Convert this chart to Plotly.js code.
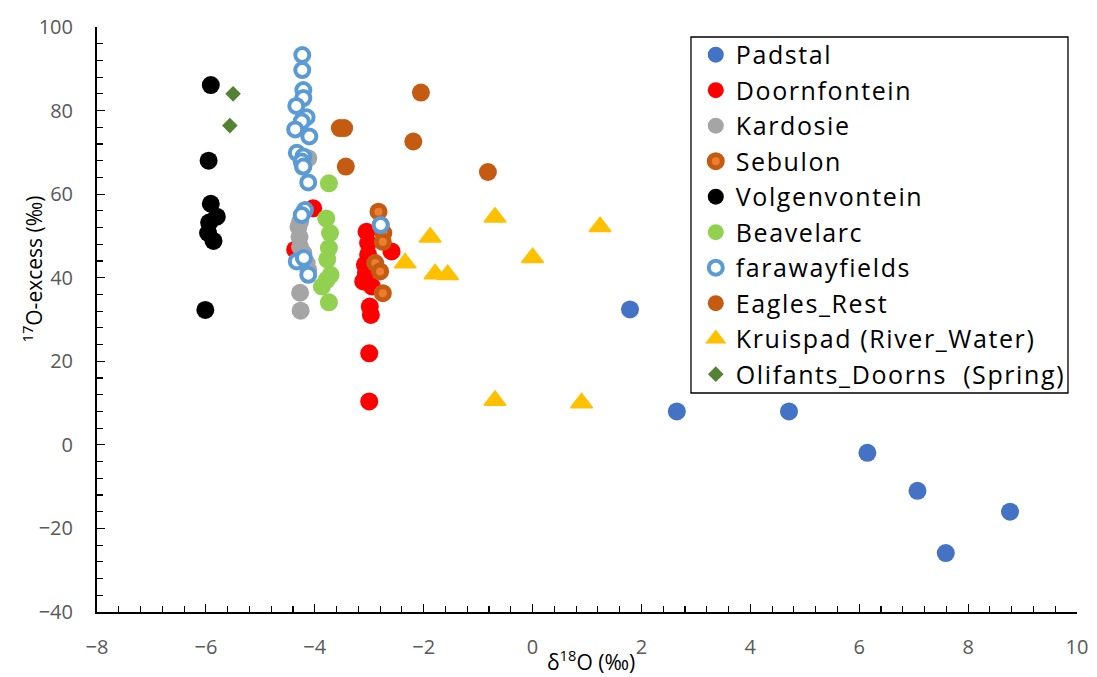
<!DOCTYPE html>
<html>
<head>
<meta charset="utf-8">
<script src="https://cdn.plot.ly/plotly-3.0.1.min.js"></script>
<style>
  html, body { margin: 0; padding: 0; background: #fff; }
  #chart { width: 1097px; height: 677px; }
  #chart .legendtext { letter-spacing: 1.6px; }
  #chart g.legend g.scrollbox { clip-path: none !important; }
</style>
</head>
<body>
<div id="chart"></div>
<script>
// δ18O (‰) and 17O-excess (‰) per sampling site
const padstalX = [1.79, 2.65, 4.71, 6.15, 7.07, 8.77, 7.59];
const padstalY = [32.4, 8.0, 8.0, -1.9, -11.0, -16.0, -25.9];

const doornfonteinX = [-4.03, -4.36, -3.05, -3.02, -2.59, -3.02, -3.08, -3.06, -3.11, -2.95, -2.99, -2.97, -3.00, -3.00];
const doornfonteinY = [56.6, 46.7, 51.0, 48.3, 46.3, 45.5, 43.1, 41.1, 39.1, 37.9, 33.1, 31.1, 21.9, 10.4];

const kardosieX = [-4.12, -4.22, -4.27, -4.30, -4.28, -4.27, -4.21, -4.15, -4.12, -4.27, -4.26];
const kardosieY = [68.6, 66.6, 53.4, 52.2, 49.8, 47.4, 45.9, 43.5, 41.9, 36.4, 32.1];

const sebulonX = [-2.83, -2.79, -2.74, -2.75, -2.89, -2.80, -2.75];
const sebulonY = [55.8, 52.6, 50.7, 48.6, 43.5, 41.5, 36.3];

const volgenvonteinX = [-5.91, -5.95, -5.91, -5.80, -5.94, -5.96, -5.86, -6.01];
const volgenvonteinY = [86.1, 68.0, 57.7, 54.6, 53.2, 50.7, 48.8, 32.3];

const beavelarcX = [-3.74, -3.79, -3.72, -3.74, -3.77, -3.71, -3.78, -3.87, -3.74];
const beavelarcY = [62.6, 54.2, 50.7, 47.1, 44.4, 40.7, 39.5, 37.9, 34.1];

const farawayX = [-4.23, -4.23, -4.21, -4.21, -4.34, -4.15, -4.24, -4.36, -4.10, -4.33, -4.21, -4.24, -4.21, -4.12, -4.18, -4.24, -4.33, -4.20, -4.12, -2.79];
const farawayY = [93.3, 89.7, 84.9, 83.0, 81.1, 78.4, 77.4, 75.5, 73.8, 69.9, 69.0, 67.8, 66.6, 62.8, 56.2, 55.0, 43.9, 44.7, 40.7, 52.6];

const eaglesX = [-2.05, -3.54, -3.46, -2.19, -3.43, -0.82];
const eaglesY = [84.3, 75.8, 75.8, 72.6, 66.6, 65.3];

const kruispadX = [-0.69, 1.24, -1.88, 0.00, -2.34, -1.79, -1.56, -0.69, 0.90];
const kruispadY = [54.5, 52.2, 49.7, 44.8, 43.5, 40.9, 40.7, 10.6, 10.0];

const olifantsX = [-5.50, -5.56];
const olifantsY = [84.0, 76.4];

const xTickVals = [-8, -6, -4, -2, 0, 2, 4, 6, 8, 10];
const yTickVals = [-40, -20, 0, 20, 40, 60, 80, 100];

const FONT = '"Open Sans", Lato, sans-serif';

function dots(name, x, y, marker) {
  return { type: 'scatter', mode: 'markers', name: name, x: x, y: y, marker: marker, cliponaxis: false };
}

const traces = [
  dots('Padstal', padstalX, padstalY, { symbol: 'circle', size: 18, color: '#4472C4', line: { width: 0 } }),
  dots('Doornfontein', doornfonteinX, doornfonteinY, { symbol: 'circle', size: 18, color: '#FF0000', line: { width: 0 } }),
  dots('Kardosie', kardosieX, kardosieY, { symbol: 'circle', size: 18, color: '#A5A5A5', line: { width: 0 } }),
  dots('Sebulon', sebulonX, sebulonY, { symbol: 'circle', size: 13, color: '#ED7D31', line: { width: 5, color: '#C55A11' } }),
  dots('Volgenvontein', volgenvonteinX, volgenvonteinY, { symbol: 'circle', size: 18, color: '#000000', line: { width: 0 } }),
  dots('Beavelarc', beavelarcX, beavelarcY, { symbol: 'circle', size: 18, color: '#92D050', line: { width: 0 } }),
  dots('farawayfields', farawayX, farawayY, { symbol: 'circle', size: 14, color: '#FFFFFF', line: { width: 4, color: '#5B9BD5' } }),
  dots('Eagles_Rest', eaglesX, eaglesY, { symbol: 'circle', size: 18, color: '#C55A11', line: { width: 0 } }),
  dots('Kruispad (River_Water)', kruispadX, kruispadY, { symbol: 'triangle-up', size: 19, color: '#FFC000', line: { width: 1.5, color: '#FFC000' } }),
  dots('Olifants_Doorns\u00A0 (Spring)', olifantsX, olifantsY, { symbol: 'diamond', size: 12, color: '#548235', line: { width: 0 } })
];

const axisCommon = {
  showgrid: false,
  zeroline: false,
  showline: true,
  linecolor: '#000000',
  linewidth: 2,
  ticks: 'inside',
  ticklen: 8,
  tickwidth: 1.2,
  tickcolor: '#000000',
  tickfont: { family: FONT, size: 20, color: '#595959' },
  fixedrange: true
};

const layout = {
  width: 1097,
  height: 677,
  margin: { l: 97, r: 20, t: 27, b: 65, pad: 0 },
  paper_bgcolor: '#FFFFFF',
  plot_bgcolor: '#FFFFFF',
  font: { family: FONT, color: '#000000' },
  showlegend: true,
  legend: {
    x: 0.611, y: 0.9916, xanchor: 'left', yanchor: 'top',
    bgcolor: 'rgba(0,0,0,0)', borderwidth: 0,
    font: { family: FONT, size: 25, color: '#000000' },
    tracegroupgap: 0
  },
  // legend frame
  shapes: [
    { type: 'rect', xref: 'paper', yref: 'paper', x0: 0.6061, x1: 0.9908, y0: 0.3744, y1: 0.9829,
      line: { color: '#000000', width: 1.3 }, fillcolor: '#FFFFFF', layer: 'above' }
  ],
  xaxis: Object.assign({}, axisCommon, {
    range: [-8, 10],
    tickmode: 'array', tickvals: xTickVals,
    ticklabelstandoff: 16,
    minor: { dtick: 0.4, ticks: 'inside', ticklen: 6, tickwidth: 1.2, tickcolor: '#000000', showgrid: false }
  }),
  yaxis: Object.assign({}, axisCommon, {
    range: [-40, 100],
    tickmode: 'array', tickvals: yTickVals,
    ticklabelstandoff: 18,
    minor: { dtick: 4, ticks: 'inside', ticklen: 6, tickwidth: 1.2, tickcolor: '#000000', showgrid: false }
  }),
  annotations: [
    { xref: 'paper', yref: 'paper', x: 0.504, y: -0.083, xanchor: 'center', yanchor: 'middle',
      text: 'δ<sup>18</sup>O (‰)', showarrow: false, font: { family: FONT, size: 21, color: '#000000' } },
    { xref: 'paper', yref: 'paper', x: -0.066, y: 0.586, xanchor: 'center', yanchor: 'middle', textangle: -90,
      text: '<sup>17</sup>O-excess (‰)', showarrow: false, font: { family: FONT, size: 21, color: '#000000' } }
  ]
};

Plotly.newPlot('chart', traces, layout, { displayModeBar: false, staticPlot: true });
</script>
</body>
</html>
